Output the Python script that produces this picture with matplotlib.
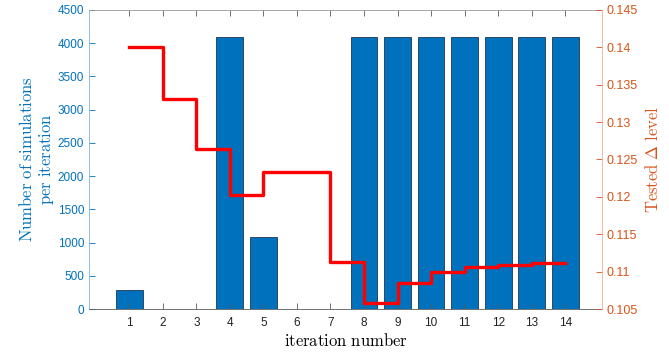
import matplotlib.pyplot as plt
import numpy as np

plt.rcParams['mathtext.fontset'] = 'cm'
plt.rcParams['font.family'] = ['Liberation Sans', 'DejaVu Sans']

# Iterations and number of simulations run in each
iterations = np.arange(1, 15)
n_simulations = [290, 0, 0, 4096, 1090, 0, 0, 4096, 4096, 4096, 4096, 4096, 4096, 4096]

# Tested delta level per iteration (held until the next iteration)
delta_level = [0.1400, 0.1331, 0.1264, 0.1202, 0.1233, 0.1233, 0.1113,
               0.1058, 0.1085, 0.1099, 0.1106, 0.1109, 0.1112, 0.1112]

blue = '#0072BD'
orange = '#D95319'
grey = '#5a5a5a'

fig = plt.figure(figsize=(6.69, 3.52), dpi=100)
ax = fig.add_axes([0.133, 0.122, 0.767, 0.850])

ax.bar(iterations, n_simulations, width=0.8, color=blue,
       edgecolor='#1d3550', linewidth=0.6)
ax.set_xlim(-0.2, 15.1)
ax.set_ylim(0, 4500)
ax.set_xticks(iterations)
ax.set_yticks(np.arange(0, 4501, 500))
ax.tick_params(axis='both', direction='in', labelsize=8.5, length=4, width=0.6)
ax.tick_params(axis='x', colors='#222222', top=True, color=grey, pad=6)
ax.tick_params(axis='y', colors=blue)
ax.spines['left'].set_color('#7fb4e0')
ax.spines['bottom'].set_color(grey)
ax.spines['top'].set_color('#999999')
ax.spines['right'].set_visible(False)
for s in ax.spines.values():
    s.set_linewidth(0.6)
ax.set_xlabel(r'$\mathrm{iteration\ number}$', fontsize=12, labelpad=2)
ax.set_ylabel('$\\mathrm{Number\\ of\\ simulations}$\n$\\mathrm{per\\ iteration}$',
              fontsize=12, color=blue, labelpad=1, linespacing=1.15)

ax2 = ax.twinx()
ax2.step(iterations, delta_level, where='post', color='#ff0000', linewidth=2.4)
ax2.set_ylim(0.105, 0.145)
yt = np.arange(0.105, 0.1451, 0.005)
ax2.set_yticks(yt)
ax2.set_yticklabels(['%g' % round(v, 3) for v in yt])
ax2.tick_params(axis='y', direction='in', labelsize=9, length=4, width=0.6,
                colors=orange)
ax2.spines['right'].set_color('#f0b090')
ax2.spines['right'].set_linewidth(0.6)
for side in ['left', 'top', 'bottom']:
    ax2.spines[side].set_visible(False)
ax2.set_ylabel(r'$\mathrm{Tested}\ \Delta\ \mathrm{level}$', fontsize=12,
               color=orange, labelpad=4)

fig.savefig('out.png', dpi=100)
